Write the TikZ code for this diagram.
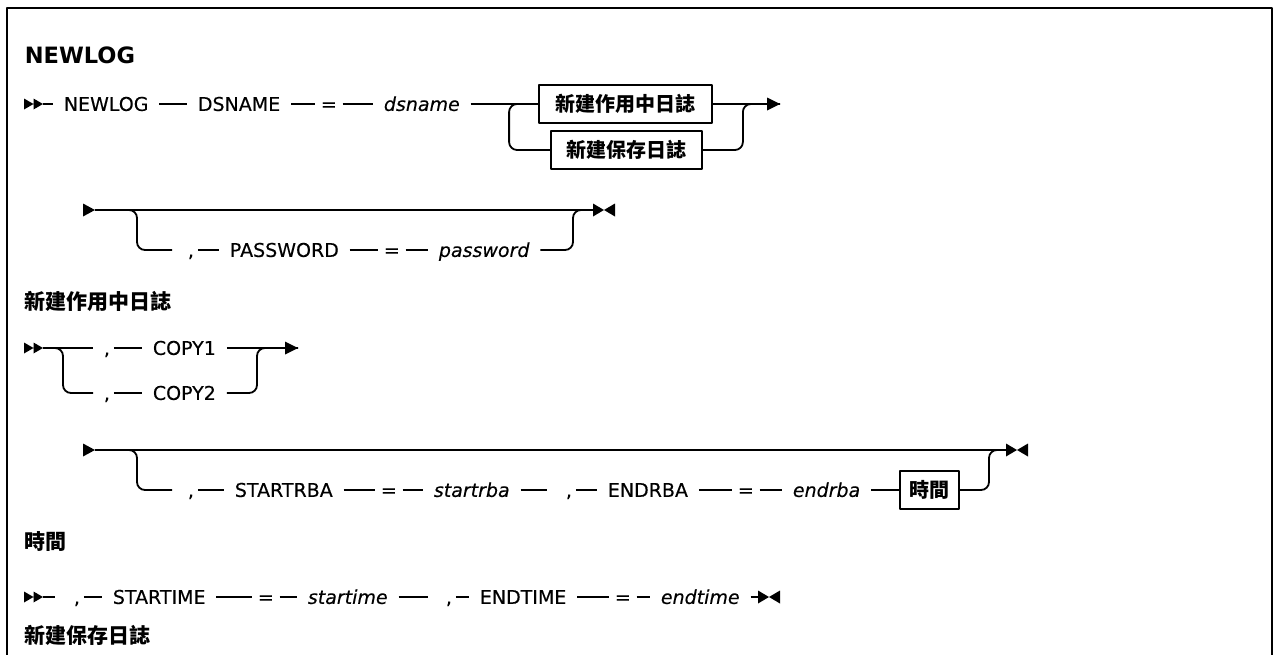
\documentclass[tikz,border=0pt]{standalone}
\usepackage{fontspec}
\setmainfont{DejaVu Sans}
\newfontfamily\synfont{DejaVu Sans}[FakeBold=0.3]
\newfontfamily\cjk{Noto Sans CJK TC}
\tikzset{
  kwd/.style={font=\synfont\fontsize{19}{22}\selectfont, anchor=west, inner xsep=10pt, inner ysep=0pt, text height=13.8pt, text depth=0pt},
  vrb/.style={kwd, font=\synfont\fontsize{19}{22}\selectfont\itshape},
  eqs/.style={kwd, inner xsep=5pt},
  cma/.style={kwd, inner xsep=3pt},
  cjkbox/.style={draw, font=\cjk\bfseries\fontsize{20}{24}\selectfont, inner xsep=9.5pt, inner ysep=0pt, minimum height=38pt},
  ttl/.style={anchor=west, inner sep=0pt, font=\bfseries\fontsize{22.5}{26}\selectfont},
  cjkttl/.style={anchor=west, inner sep=0pt, font=\cjk\bfseries\fontsize{21}{25}\selectfont},
  dblmk/.pic={\fill (-19,-5.5) -- (-9.5,0) -- (-19,5.5) -- cycle (-9.5,-5.5) -- (0,0) -- (-9.5,5.5) -- cycle;},
  onemk/.pic={\fill (-12,-6.5) -- (0,0) -- (-12,6.5) -- cycle;},
  arrmk/.pic={\fill (-13,-6.5) -- (0,0) -- (-13,6.5) -- cycle;},
  endmk/.pic={\fill (0,-6.5) -- (11,0) -- (0,6.5) -- cycle (22,-6.5) -- (11,0) -- (22,6.5) -- cycle;}
}
\begin{document}
\begin{tikzpicture}[x=1pt, y=-1pt, line width=1.8pt, line join=round]
  \useasboundingbox (0,0) rectangle (1274,654);
  \draw[line width=2.5pt] (7,660) -- (7,8) -- (1272,8) -- (1272,660);

  \node[ttl] (t1) at (24,55) {NEWLOG};
  \coordinate (r1s) at (43,104);
  \pic at (r1s) {dblmk};
  \node[kwd] (nl) at (53,104) {NEWLOG};
  \node[kwd] (ds) at (187,104) {DSNAME};
  \node[eqs] (e1) at (315,104) {=};
  \node[vrb] (dn) at (373,104) {dsname};
  \node[cjkbox, minimum width=173pt] (b1) at (625.5,104) {新建作用中日誌};
  \node[cjkbox, minimum width=151pt] (b2) at (626.5,150) {新建保存日誌};
  \coordinate (r1e) at (780,104);
  \draw (r1s) -- (nl.west) (nl.east) -- (ds.west) (ds.east) -- (e1.west) (e1.east) -- (dn.west) (dn.east) -- (b1.west) (b1.east) -- (r1e);
  \draw[rounded corners=8pt] (b1.west) -- ++(-29,0) |- (b2.west);
  \draw[rounded corners=8pt] (b2.east) -| ([xshift=30pt]b1.east) -- (r1e);
  \pic at (r1e) {arrmk};

  \coordinate (r2s) at (95,210);
  \coordinate (r2e) at (593,210);
  \pic at (r2s) {onemk};
  \pic at (r2e) {endmk};
  \node[cma] (c2) at (184,250) {,};
  \node[kwd] (pw) at (219,250) {PASSWORD};
  \node[eqs] (e2) at (378,250) {=};
  \node[vrb] (pv) at (428,250) {password};
  \draw (r2s) -- (r2e);
  \draw[rounded corners=8pt] (r2s) -- ++(42,0) |- ([xshift=-12pt]c2.west);
  \draw (c2.east) -- (pw.west) (pw.east) -- (e2.west) (e2.east) -- (pv.west);
  \draw[rounded corners=8pt] (pv.east) -| ([xshift=-20pt]r2e) -- (r2e);

  \node[cjkttl] (t2) at (24,301) {新建作用中日誌};
  \coordinate (r3s) at (43,348);
  \coordinate (r3e) at (298,348);
  \pic at (r3s) {dblmk};
  \node[cma] (c3a) at (100,348) {,};
  \node[kwd] (cp1) at (142,348) {COPY1};
  \node[cma] (c3b) at (100,393) {,};
  \node[kwd] (cp2) at (142,393) {COPY2};
  \draw (r3s) -- ([xshift=-7pt]c3a.west) (c3a.east) -- (cp1.west) (cp1.east) -- (r3e);
  \draw[rounded corners=8pt] (r3s) -- ++(20,0) |- ([xshift=-7pt]c3b.west);
  \draw (c3b.east) -- (cp2.west);
  \draw[rounded corners=8pt] (cp2.east) -| ([xshift=-41pt]r3e) -- (r3e);
  \pic at (r3e) {arrmk};

  \coordinate (r4s) at (95,450);
  \coordinate (r4e) at (1006,450);
  \pic at (r4s) {onemk};
  \pic at (r4e) {endmk};
  \node[cma] (c4a) at (184,490) {,};
  \node[kwd] (sr) at (224,490) {STARTRBA};
  \node[eqs] (e4a) at (375,490) {=};
  \node[vrb] (sv) at (423,490) {startrba};
  \node[cma] (c4b) at (562,490) {,};
  \node[kwd] (er) at (597,490) {ENDRBA};
  \node[eqs] (e4b) at (732,490) {=};
  \node[vrb] (ev) at (782,490) {endrba};
  \node[cjkbox, anchor=west] (tb) at (899,490) {時間};
  \draw (r4s) -- (r4e);
  \draw[rounded corners=8pt] (r4s) -- ++(42,0) |- ([xshift=-12pt]c4a.west);
  \draw (c4a.east) -- (sr.west) (sr.east) -- (e4a.west) (e4a.east) -- (sv.west) (sv.east) -- ([xshift=-15pt]c4b.west);
  \draw (c4b.east) -- (er.west) (er.east) -- (e4b.west) (e4b.east) -- (ev.west) (ev.east) -- (tb.west);
  \draw[rounded corners=8pt] (tb.east) -| ([xshift=-17pt]r4e) -- (r4e);

  \node[cjkttl] (t3) at (24,541) {時間};
  \coordinate (r5s) at (43,597);
  \coordinate (r5e) at (758,597);
  \pic at (r5s) {dblmk};
  \pic at (r5e) {endmk};
  \node[cma] (c5a) at (70,597) {,};
  \node[kwd] (st) at (102,597) {STARTIME};
  \node[eqs] (e5a) at (252,597) {=};
  \node[vrb] (stv) at (297,597) {startime};
  \node[cma] (c5b) at (442,597) {,};
  \node[kwd] (et) at (469,597) {ENDTIME};
  \node[eqs] (e5b) at (609,597) {=};
  \node[vrb] (etv) at (650,597) {endtime};
  \draw (r5s) -- ([xshift=-15pt]c5a.west) (c5a.east) -- (st.west) (st.east) -- (e5a.west) (e5a.east) -- (stv.west) (stv.east) -- ([xshift=-14pt]c5b.west);
  \draw (c5b.east) -- (et.west) (et.east) -- (e5b.west) (e5b.east) -- (etv.west) (etv.east) -- (r5e);

  \node[cjkttl] (t4) at (24,635) {新建保存日誌};
\end{tikzpicture}
\end{document}
